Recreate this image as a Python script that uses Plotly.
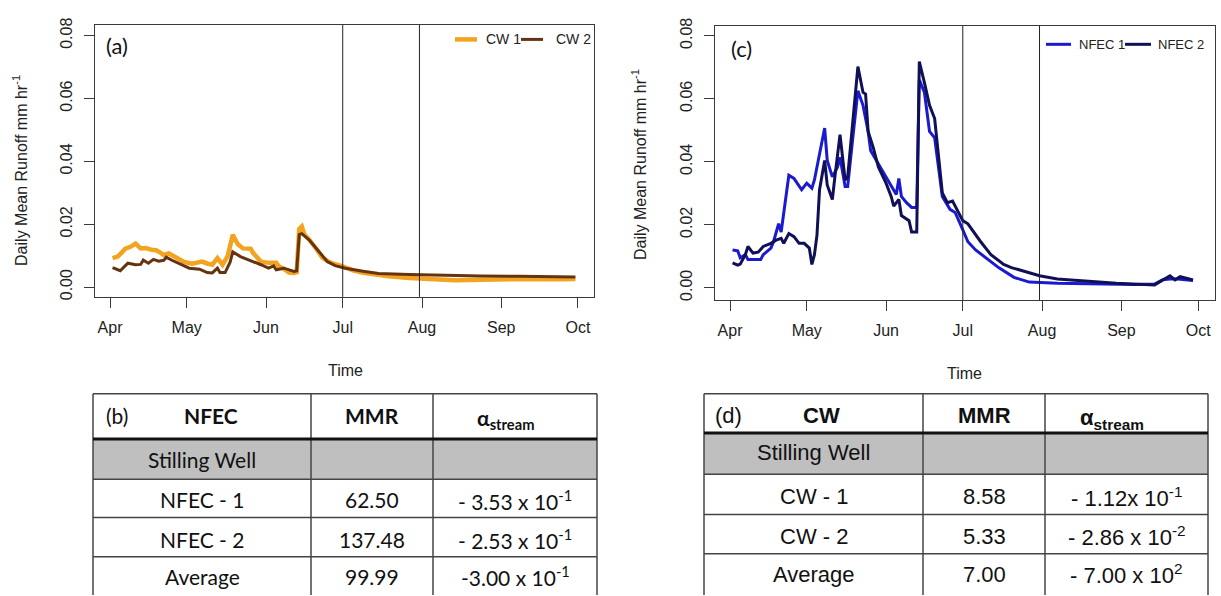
import pandas as pd
import plotly.graph_objects as go

W, H = 1221, 596
BASE = pd.Timestamp("2014-04-01")

# ---------------- data ----------------
month_ticks = ["2014-04-01", "2014-05-01", "2014-06-01", "2014-07-01",
               "2014-08-01", "2014-09-01", "2014-10-01"]
month_labels = ["Apr", "May", "Jun", "Jul", "Aug", "Sep", "Oct"]
y_ticks = [0.0, 0.02, 0.04, 0.06, 0.08]
y_tick_labels = ["0.00", "0.02", "0.04", "0.06", "0.08"]
period_lines = ["2014-07-01", "2014-07-31"]

# days after 1 April, daily mean runoff (mm/hr)
cw1_day = [1, 3, 4, 6, 8, 10, 12, 14, 16, 18, 20, 21, 23, 25, 27, 29, 32, 34, 36, 38,
           40, 42, 44, 46, 48, 50, 52, 55, 56, 59, 62, 65, 66, 68, 70, 72, 73, 74, 75, 76,
           78, 81, 83, 85, 87, 91, 95, 99, 104, 109, 117, 125, 135, 145, 155, 165, 175, 182]
cw1_runoff = [0.0092, 0.0097, 0.0105, 0.0122, 0.0128, 0.0138, 0.0123, 0.0124, 0.0119, 0.0117,
              0.0108, 0.0102, 0.0107, 0.0097, 0.0088, 0.0080, 0.0074, 0.0076, 0.0081, 0.0075,
              0.0071, 0.0092, 0.0071, 0.0098, 0.0166, 0.0136, 0.0123, 0.0122, 0.0108, 0.0081,
              0.0077, 0.0077, 0.0066, 0.0058, 0.0046, 0.0045, 0.0047, 0.0185, 0.0193, 0.0167,
              0.0150, 0.0118, 0.0094, 0.0083, 0.0075, 0.0066, 0.0053, 0.0045, 0.0038, 0.0034,
              0.0029, 0.0026, 0.0022, 0.0023, 0.0025, 0.0026, 0.0025, 0.0026]

cw2_day = [1, 3, 4, 6, 7, 10, 12, 13, 15, 17, 19, 21, 22, 24, 26, 29, 31, 35, 38, 40,
           42, 43, 45, 47, 48, 51, 55, 59, 62, 64, 65, 68, 72, 73, 74, 75, 78, 82, 85, 88,
           92, 99, 105, 117, 130, 145, 160, 172, 182]
cw2_runoff = [0.0062, 0.0055, 0.0052, 0.0068, 0.0076, 0.0071, 0.0072, 0.0086, 0.0076, 0.0088,
              0.0082, 0.0085, 0.0095, 0.0086, 0.0078, 0.0066, 0.0060, 0.0057, 0.0046, 0.0045,
              0.0060, 0.0046, 0.0046, 0.0080, 0.0112, 0.0097, 0.0085, 0.0071, 0.0060, 0.0067,
              0.0055, 0.0060, 0.0050, 0.0052, 0.0167, 0.0170, 0.0149, 0.0112, 0.0081, 0.0068,
              0.0060, 0.0050, 0.0043, 0.0040, 0.0037, 0.0035, 0.0034, 0.0034, 0.0032]

nfec1_day = [1, 3, 4, 6, 7, 10, 12, 13, 16, 17, 19, 20, 22, 23, 25, 28, 30, 32, 33, 35,
             37, 38, 40, 42, 43, 45, 46, 48, 50, 52, 54, 55, 58, 61, 63, 65, 66, 67, 69, 71,
             73, 74, 76, 78, 80, 82, 83, 86, 88, 90, 93, 96, 101, 105, 111, 117, 128, 143,
             158, 166, 169, 172, 175, 181]
nfec1_runoff = [0.0120, 0.0117, 0.0095, 0.0105, 0.0090, 0.0090, 0.0090, 0.0105, 0.0126, 0.0146,
                0.0203, 0.0177, 0.0290, 0.0357, 0.0347, 0.0311, 0.0332, 0.0316, 0.0342, 0.0424,
                0.0507, 0.0404, 0.0352, 0.0383, 0.0414, 0.0321, 0.0321, 0.0476, 0.0625, 0.0579,
                0.0496, 0.0435, 0.0393, 0.0352, 0.0321, 0.0296, 0.0347, 0.0290, 0.0270, 0.0255,
                0.0255, 0.0660, 0.0620, 0.0496, 0.0476, 0.0352, 0.0290, 0.0249, 0.0239, 0.0203,
                0.0146, 0.0120, 0.0090, 0.0064, 0.0033, 0.0018, 0.0014, 0.0012, 0.0010, 0.0012,
                0.0025, 0.0028, 0.0028, 0.0023]

nfec2_day = [1, 3, 4, 6, 7, 9, 11, 13, 16, 18, 20, 21, 23, 25, 27, 29, 31, 32, 33, 34,
             35, 37, 38, 40, 41, 43, 45, 46, 48, 50, 52, 53, 54, 56, 58, 61, 63, 64, 66, 67,
             70, 71, 73, 74, 76, 78, 80, 81, 83, 85, 87, 89, 91, 93, 98, 102, 107, 110, 114,
             121, 128, 136, 151, 166, 169, 172, 174, 176, 181]
nfec2_runoff = [0.0079, 0.0072, 0.0075, 0.0105, 0.0131, 0.0110, 0.0113, 0.0131, 0.0141, 0.0151,
                0.0157, 0.0141, 0.0172, 0.0162, 0.0141, 0.0141, 0.0126, 0.0074, 0.0105, 0.0167,
                0.0311, 0.0404, 0.0326, 0.0280, 0.0352, 0.0486, 0.0342, 0.0352, 0.0527, 0.0702,
                0.0620, 0.0615, 0.0496, 0.0445, 0.0383, 0.0332, 0.0290, 0.0259, 0.0280, 0.0229,
                0.0213, 0.0177, 0.0177, 0.0718, 0.0651, 0.0579, 0.0537, 0.0455, 0.0301, 0.0270,
                0.0275, 0.0244, 0.0213, 0.0203, 0.0146, 0.0105, 0.0074, 0.0064, 0.0054, 0.0038,
                0.0028, 0.0023, 0.0014, 0.0009, 0.0023, 0.0038, 0.0025, 0.0035, 0.0025]

# tables
table_b_tag = "(b)"
table_b_header = ["NFEC", "MMR", "α<sub>stream</sub>"]
table_b_site = ["Stilling Well", "NFEC - 1", "NFEC - 2", "Average"]
table_b_mmr = ["", "62.50", "137.48", "99.99"]
table_b_alpha = ["", "- 3.53 x 10<sup>-1</sup>", "- 2.53 x 10<sup>-1</sup>", "-3.00 x 10<sup>-1</sup>"]

table_d_tag = "(d)"
table_d_header = ["CW", "MMR", "α<sub>stream</sub>"]
table_d_site = ["Stilling Well", "CW - 1", "CW - 2", "Average"]
table_d_mmr = ["", "8.58", "5.33", "7.00"]
table_d_alpha = ["", "- 1.12x 10<sup>-1</sup>", "- 2.86 x 10<sup>-2</sup>", "- 7.00 x 10<sup>2</sup>"]

# ---------------- helpers ----------------
def to_dates(days):
    return [BASE + pd.Timedelta(days=d) for d in days]

def px(x):
    return x / W

def py(y):
    return 1 - y / H

ARIAL = "Liberation Sans, Arial, sans-serif"
CALIBRI = "Lato, Open Sans, sans-serif"
AXC = "#3a3a3a"

series = [
    ("CW 1", cw1_day, cw1_runoff, "#F2A31F", 4.5, "x", "y"),
    ("CW 2", cw2_day, cw2_runoff, "#663311", 3, "x", "y"),
    ("NFEC 1", nfec1_day, nfec1_runoff, "#1A1AD0", 3, "x2", "y2"),
    ("NFEC 2", nfec2_day, nfec2_runoff, "#101058", 3, "x2", "y2"),
]

fig = go.Figure()
for name, d, v, c, w, xa, ya in series:
    fig.add_trace(go.Scatter(x=to_dates(d), y=v, mode="lines", name=name,
                             line=dict(color=c, width=w), xaxis=xa, yaxis=ya,
                             showlegend=False))

def xaxis_cfg(domain, lo, hi, anchor):
    return dict(domain=domain, anchor=anchor, type="date",
                range=[BASE + pd.Timedelta(days=lo), BASE + pd.Timedelta(days=hi)],
                tickvals=month_ticks, ticktext=month_labels,
                showgrid=False, zeroline=False, showline=True, mirror=True,
                linecolor=AXC, linewidth=1, ticks="outside", ticklen=10, tickcolor=AXC,
                tickwidth=1, ticklabelstandoff=6,
                tickfont=dict(family=ARIAL, size=16, color="#222"))

def yaxis_cfg(domain, rng, anchor):
    return dict(domain=domain, anchor=anchor, range=rng,
                tickvals=y_ticks, ticktext=y_tick_labels, tickangle=-90,
                showgrid=False, zeroline=False, showline=True, mirror=True,
                linecolor=AXC, linewidth=1, ticks="outside", ticklen=10, tickcolor=AXC,
                tickwidth=1, ticklabelstandoff=6,
                tickfont=dict(family=ARIAL, size=16, color="#222"))

shapes = []
annotations = []

def note(x, y, text, family, size, xanchor="center", angle=0, color="#222"):
    annotations.append(dict(x=px(x), y=py(y), xref="paper", yref="paper", showarrow=False,
                            text=text, textangle=angle, xanchor=xanchor, yanchor="middle",
                            font=dict(family=family, size=size, color=color)))

for ref, yref in (("x", "y domain"), ("x2", "y2 domain")):
    for d in period_lines:
        shapes.append(dict(type="line", xref=ref, yref=yref,
                           x0=d, x1=d, y0=0, y1=1, line=dict(color="#222", width=1)))

# axis titles and panel labels
for cx, cy in ((20, 166), (639, 160)):
    note(cx, cy, "Daily Mean Runoff mm hr<sup>-1</sup>", ARIAL, 16, angle=-90)
for cx, cy in ((345, 369), (964, 372)):
    note(cx, cy, "Time", ARIAL, 16)
note(117, 38, "(a)", CALIBRI, 22, color="#111")
note(741, 41, "(c)", CALIBRI, 22, color="#111")

# in-plot legends (R style, no box)
legend_items = [
    (455, 477, 484, 32, 0, 14),
    (521, 543, 554, 32, 1, 14),
    (1046, 1071, 1077, 37, 2, 13),
    (1125, 1151, 1156, 37, 3, 13),
]
for x0, x1, tx, ly, idx, fs in legend_items:
    name, _, _, c, w, _, _ = series[idx]
    shapes.append(dict(type="line", xref="paper", yref="paper", x0=px(x0), x1=px(x1),
                       y0=py(ly), y1=py(ly), line=dict(color=c, width=w)))
    note(tx, ly, name, ARIAL, fs, xanchor="left")


def draw_table(left, c1, c2, right, top, head, gray, rows_y, tag, tag_x, header, head_x,
               sites, mmr, alpha, alpha_head_x, text_y, font, fsize):
    bottom = H + 2
    shapes.append(dict(type="rect", xref="paper", yref="paper", x0=px(left), x1=px(right),
                       y0=py(gray), y1=py(head), fillcolor="#BFBFBF", line=dict(width=0),
                       layer="below"))
    for x in (left, c1, c2, right):
        shapes.append(dict(type="line", xref="paper", yref="paper", x0=px(x), x1=px(x),
                           y0=py(top), y1=py(bottom), line=dict(color="#444", width=1.5)))
    for y in [top, gray] + rows_y:
        shapes.append(dict(type="line", xref="paper", yref="paper", x0=px(left), x1=px(right),
                           y0=py(y), y1=py(y), line=dict(color="#444", width=1.5)))
    shapes.append(dict(type="line", xref="paper", yref="paper", x0=px(left), x1=px(right),
                       y0=py(head), y1=py(head), line=dict(color="#111", width=3)))
    colc = [(left + c1) / 2, (c1 + c2) / 2, (c2 + right) / 2]
    note(tag_x, text_y[0], tag, font, fsize, color="#111")
    hx = [head_x, colc[1], alpha_head_x]
    for i, h in enumerate(header):
        note(hx[i], text_y[0] + (4 if i == 2 else 0), "<b>" + h + "</b>", font, fsize, color="#111")
    for r in range(len(sites)):
        for j, col in enumerate((sites, mmr, alpha)):
            if col[r]:
                note(colc[j], text_y[r + 1], col[r], font, fsize, color="#111")


draw_table(93, 311, 433, 597, 393, 439, 480, [519, 559], table_b_tag, 117, table_b_header, 211,
           table_b_site, table_b_mmr, table_b_alpha, 505, [415, 460, 501, 541, 579], CALIBRI, 21)
draw_table(704, 923, 1045, 1208, 393, 433, 475, [516, 556], table_d_tag, 728, table_d_header, 821,
           table_d_site, table_d_mmr, table_d_alpha, 1112, [415, 453, 498, 538, 577], ARIAL, 22)

fig.update_layout(
    width=W, height=H, autosize=False,
    margin=dict(l=0, r=0, t=0, b=0),
    paper_bgcolor="white", plot_bgcolor="white",
    xaxis=xaxis_cfg([px(95), px(594)], -5.87, 189.26, "y"),
    yaxis=yaxis_cfg([py(294.3), py(17.3)], [-0.003125, 0.0834], "x"),
    xaxis2=xaxis_cfg([px(715), px(1215)], -5.87, 189.6, "y2"),
    yaxis2=yaxis_cfg([py(297.7), py(18.3)], [-0.00396, 0.0831], "x2"),
    shapes=shapes, annotations=annotations, showlegend=False,
)

fig.write_html("out.html", config={"displayModeBar": False},
               post_script="document.body.style.margin='0px';document.body.style.overflow='hidden';")
